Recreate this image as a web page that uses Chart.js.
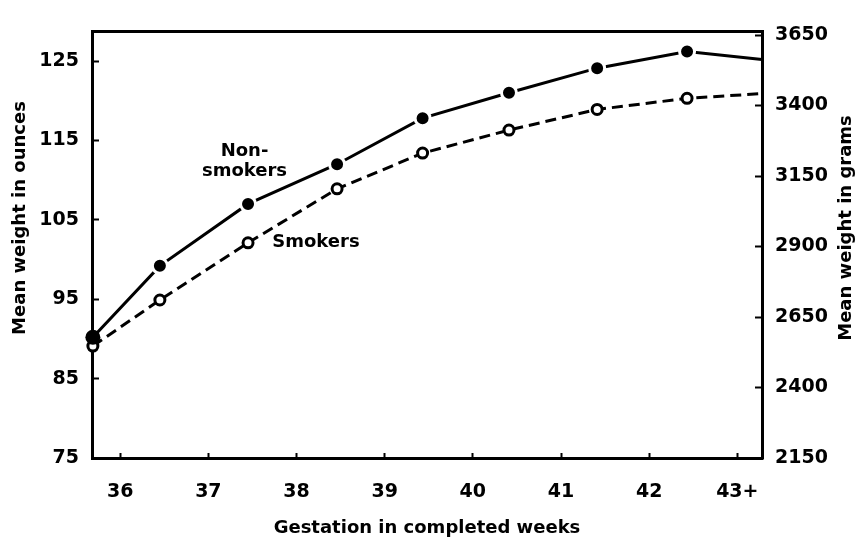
<!DOCTYPE html>
<html>
<head>
<meta charset="utf-8">
<script src="https://cdn.jsdelivr.net/npm/chart.js@4.4.0/dist/chart.umd.min.js"></script>
<style>
  html, body { margin: 0; padding: 0; background: #fff; }
  #wrap { width: 867px; height: 541px; }
</style>
</head>
<body>
<div id="wrap"><canvas id="myChart"></canvas></div>
<script>
// values (weeks at mid-interval, weights in ounces)
const weeks = [35.69, 36.45, 37.45, 38.46, 39.43, 40.41, 41.41, 42.43, 43.28];
const nonSmokers = [90.2, 99.2, 107.0, 112.0, 117.8, 121.0, 124.1, 126.2, 125.2];
const smokers = [89.1, 94.9, 102.1, 108.9, 113.4, 116.3, 118.9, 120.3, 120.9];
const weekTicks = [36, 37, 38, 39, 40, 41, 42, 43];
const ounceTicks = [75, 85, 95, 105, 115, 125];
const gramTicks = [2150, 2400, 2650, 2900, 3150, 3400, 3650];

const FONT = "'DejaVu Sans', sans-serif";
Chart.defaults.font.family = FONT;
Chart.defaults.font.weight = 'bold';
Chart.defaults.font.size = 19;
Chart.defaults.color = '#000';

const last = weeks.length - 1;
const toPoints = ys => ys.map((y, i) => ({ x: weeks[i], y: y }));

const tickGrid = len => ({
  display: true,
  drawOnChartArea: false,
  drawTicks: true,
  tickLength: len,
  tickWidth: 2,
  color: '#000'
});
const axisBorder = { display: true, width: 3, color: '#000' };
const plain = v => String(v);

const textPlugin = {
  id: 'figureText',
  afterDraw(chart) {
    const { ctx, scales: { x, y } } = chart;
    ctx.save();
    ctx.fillStyle = '#000';
    ctx.font = 'bold 18px ' + FONT;
    ctx.textBaseline = 'middle';

    // curve labels
    ctx.textAlign = 'center';
    ctx.fillText('Non-', x.getPixelForValue(37.41), y.getPixelForValue(113.6));
    ctx.fillText('smokers', x.getPixelForValue(37.41), y.getPixelForValue(111.1));
    ctx.textAlign = 'left';
    ctx.fillText('Smokers', x.getPixelForValue(37.725), y.getPixelForValue(102.2));

    // y axis titles, both read bottom to top
    ctx.textAlign = 'center';
    ctx.save();
    ctx.translate(20, 218);
    ctx.rotate(-Math.PI / 2);
    ctx.fillText('Mean weight in ounces', 0, 0);
    ctx.restore();
    ctx.save();
    ctx.translate(846, 228);
    ctx.rotate(-Math.PI / 2);
    ctx.fillText('Mean weight in grams', 0, 0);
    ctx.restore();
    ctx.restore();
  }
};

const config = {
  type: 'line',
  data: {
    datasets: [
      {
        label: 'Non-smokers',
        data: toPoints(nonSmokers),
        yAxisID: 'y',
        borderColor: '#000',
        borderWidth: 3,
        pointRadius: weeks.map((w, i) => (i === last ? 0 : 7.5)),
        pointBackgroundColor: '#000',
        pointBorderColor: '#fff',
        pointBorderWidth: weeks.map((w, i) => (i === 0 ? 0 : 3)),
        tension: 0,
        clip: false
      },
      {
        label: 'Smokers',
        data: toPoints(smokers),
        yAxisID: 'y',
        borderColor: '#000',
        borderWidth: 3,
        borderDash: [11, 6],
        pointRadius: weeks.map((w, i) => (i === last ? 0 : 5)),
        pointBackgroundColor: '#fff',
        pointBorderColor: '#000',
        pointBorderWidth: 3,
        tension: 0,
        clip: false
      }
    ]
  },
  options: {
    responsive: true,
    maintainAspectRatio: false,
    animation: false,
    layout: { padding: 0 },
    plugins: {
      legend: { display: false },
      tooltip: { enabled: false }
    },
    scales: {
      x: {
        type: 'linear',
        position: 'bottom',
        min: 35.68,
        max: 43.28,
        afterBuildTicks: s => { s.ticks = weekTicks.map(v => ({ value: v })); },
        afterFit: s => { s.height = 83; },
        ticks: {
          padding: 28,
          maxRotation: 0,
          autoSkip: false,
          callback: v => (v === 43 ? '43+' : String(v))
        },
        grid: tickGrid(-5),
        border: axisBorder,
        title: {
          display: true,
          text: 'Gestation in completed weeks',
          font: { size: 18 },
          padding: { top: 0, bottom: 2 }
        }
      },
      xTop: {
        type: 'linear',
        position: 'top',
        ticks: { display: false },
        grid: { display: false },
        border: axisBorder,
        afterFit: s => { s.height = 12; }
      },
      y: {
        type: 'linear',
        position: 'left',
        min: 75,
        max: 128.73,
        afterBuildTicks: s => { s.ticks = ounceTicks.map(v => ({ value: v })); },
        afterFit: s => { s.width = 92; },
        ticks: { padding: 20, callback: plain },
        grid: tickGrid(-7),
        border: axisBorder
      },
      y2: {
        type: 'linear',
        position: 'right',
        min: 2150,
        max: 3663,
        afterBuildTicks: s => { s.ticks = gramTicks.map(v => ({ value: v })); },
        afterFit: s => { s.width = 105; },
        ticks: { padding: 20, callback: plain },
        grid: tickGrid(-7),
        border: axisBorder
      }
    }
  },
  plugins: [textPlugin]
};

const myChart = new Chart(document.getElementById('myChart'), config);
</script>
</body>
</html>
